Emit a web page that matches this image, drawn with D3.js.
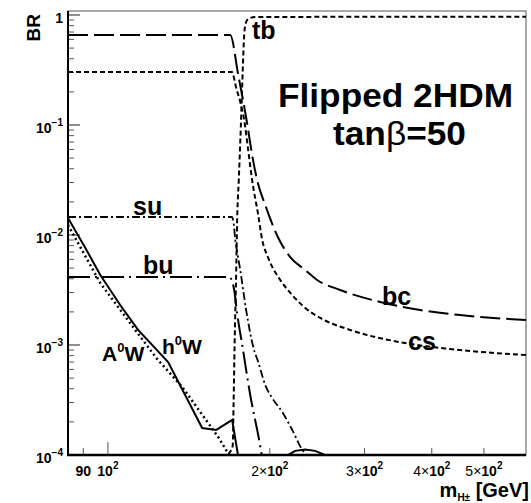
<!DOCTYPE html>
<html>
<head>
<meta charset="utf-8">
<script src="https://cdn.jsdelivr.net/npm/d3@7"></script>
<style>
body { margin: 0; background: #fff; }
text { font-family: "Liberation Sans", Arial, sans-serif; font-weight: bold; fill: #000; }
</style>
</head>
<body>
<div id="chart"></div>
<script>

// branching ratios vs charged Higgs mass (GeV)
var bcMass = [84.3, 168.8, 174.7, 181.3, 185.4, 189.4, 196.1, 207.4, 218.2, 232.7, 244.9, 270.3, 320.7, 380.6, 451.6, 598.7];
var bcBR   = [0.658, 0.658, 0.285, 0.1065, 0.0534, 0.0316, 0.0187, 0.0094, 0.0063, 0.0048, 0.0039, 0.00316, 0.00246, 0.00208, 0.00187, 0.00169];

var csMass = [84.3, 170.0, 173.2, 176.2, 179.2, 182.3, 185.4, 190.3, 193.6, 198.6, 209.1, 220.1, 232.7, 248.1, 282.1, 349.4, 432.6, 598.7];
var csBR   = [0.303, 0.303, 0.217, 0.162, 0.111, 0.0593, 0.0316, 0.0152, 0.009, 0.0062, 0.0039, 0.00285, 0.00217, 0.00176, 0.00137, 0.00106, 0.00092, 0.00081];

var tbMass = [166.6, 167.4, 168.8, 170.6, 171.3, 172.0, 173.2, 173.9, 175.1, 176.7, 178.1, 179.2, 180.4, 182.3, 187.8, 598.7];
var tbBR   = [0.000086, 0.0001, 0.000107, 0.000121, 0.000316, 0.001, 0.0048, 0.0137, 0.0316, 0.1, 0.316, 0.658, 0.846, 0.92, 0.959, 0.965];

var suMass = [84.3, 170.0, 171.2, 172.5, 174.3, 176.2, 180.7, 186.5, 190.3, 196.1, 202.0, 210.9, 220.1, 229.4, 239.8];
var suBR   = [0.01458, 0.01458, 0.0131, 0.009, 0.00658, 0.0048, 0.00208, 0.00094, 0.0007, 0.000433, 0.00033, 0.000246, 0.000169, 0.000113, 0.00009];

var buMass = [84.3, 168.1, 171.7, 173.7, 175.4, 177.7, 180.7, 183.9, 187.8, 190.3, 193.6];
var buBR   = [0.00415, 0.00415, 0.00316, 0.002, 0.00146, 0.001, 0.000593, 0.000351, 0.000208, 0.000152, 0.000094];

var hWMass = [84.3, 90.8, 96.8, 105.4, 113.8, 129.4, 149.7, 159.0, 170.2, 174.5, 176.2, 213.6, 216.3, 222.9, 232.7, 242.8, 253.4, 259.0];
var hWBR   = [0.01428, 0.00762, 0.00433, 0.00231, 0.00137, 0.000701, 0.000176, 0.000169, 0.000208, 0.0001, 0.000073, 0.000073, 0.0001, 0.000109, 0.000112, 0.000109, 0.0001, 0.000081];

var AWMass = [84.3, 96.8, 112.4, 123.0, 137.5, 160.3, 166.6, 168.1];
var AWBR   = [0.01233, 0.00366, 0.00137, 0.000762, 0.000415, 0.000146, 0.000107, 0.000086];

// axis ticks
var yMajor = [1e-4, 1e-3, 1e-2, 1e-1, 1];
var yExp   = ["\u22124", "\u22123", "\u22122", "\u22121", ""];
var xTicks = [90, 100, 200, 300, 400, 500];
var xMant  = ["90", "", "2\u00d7", "3\u00d7", "4\u00d7", "5\u00d7"];

var margin = {top: 11, right: 5, bottom: 48, left: 68},
    width = 531 - margin.left - margin.right,
    height = 503 - margin.top - margin.bottom;

var svg = d3.select("#chart")
  .append("svg")
    .attr("width", 531)
    .attr("height", 503)
  .append("g")
    .attr("transform", "translate(" + margin.left + "," + margin.top + ")");

var x = d3.scaleLog().domain([84.3, 598.7]).range([0, width]);
var y = d3.scaleLog().domain([1e-4, 1.087]).range([height, 0]);

svg.append("clipPath").attr("id", "clip")
  .append("rect").attr("width", width).attr("height", height);

// frame: thin top/right, thick left/bottom
svg.append("rect")
  .attr("width", width).attr("height", height)
  .attr("fill", "none").attr("stroke", "#555").attr("stroke-width", 1);

// y ticks (inside)
var yMinor = [];
for (var d = -4; d < 0; d++)
  for (var k = 2; k <= 9; k++) yMinor.push(k * Math.pow(10, d));

svg.selectAll(".ymin").data(yMinor).enter().append("line")
  .attr("x1", 0).attr("x2", 6)
  .attr("y1", d => y(d)).attr("y2", d => y(d))
  .attr("stroke", "#555").attr("stroke-width", 1);

svg.selectAll(".ymaj").data(yMajor).enter().append("line")
  .attr("x1", 0).attr("x2", 12)
  .attr("y1", d => y(d)).attr("y2", d => y(d))
  .attr("stroke", "#444").attr("stroke-width", 1.2);

// x ticks (inside)
svg.selectAll(".xt").data(xTicks).enter().append("line")
  .attr("x1", d => x(d)).attr("x2", d => x(d))
  .attr("y1", height).attr("y2", d => d == 100 ? height - 13 : height - 7)
  .attr("stroke", "#555").attr("stroke-width", 1);

svg.append("line").attr("x1", 0).attr("x2", 0).attr("y1", 0).attr("y2", height + 1)
  .attr("stroke", "#000").attr("stroke-width", 2);
svg.append("line").attr("x1", -1).attr("x2", width).attr("y1", height).attr("y2", height)
  .attr("stroke", "#000").attr("stroke-width", 2.5);

// y tick labels
yMajor.forEach(function(v, i) {
  var t = svg.append("text")
    .attr("x", -5).attr("y", y(v) + 8)
    .attr("text-anchor", "end")
    .style("font-size", "14px");
  if (yExp[i] == "") {
    t.text("1");
  } else {
    t.append("tspan").text("10");
    t.append("tspan").attr("dy", -7).style("font-size", "10px").text(yExp[i]);
  }
});

// x tick labels
xTicks.forEach(function(v, i) {
  var t = svg.append("text")
    .attr("x", x(v)).attr("y", height + 21)
    .attr("text-anchor", "middle")
    .style("font-size", "14px");
  if (v == 90) {
    t.text("90");
  } else {
    if (xMant[i] != "") t.append("tspan").style("font-weight", "normal").text(xMant[i]);
    t.append("tspan").text("10");
    t.append("tspan").attr("dy", -7).style("font-size", "10px").text("2");
  }
});

// axis titles
svg.append("text")
  .attr("transform", "translate(-28,3) rotate(-90)")
  .attr("text-anchor", "end")
  .style("font-size", "19px")
  .text("BR");

var xt = svg.append("text")
  .attr("x", width + 3).attr("y", height + 42)
  .attr("text-anchor", "end")
  .style("font-size", "20px");
xt.append("tspan").text("m");
xt.append("tspan").attr("dy", 4).style("font-size", "10px").text("H\u00b1");
xt.append("tspan").attr("dy", -4).text(" [GeV]");

// curves
var series = [
  {m: bcMass, br: bcBR, dash: "20,6", w: 2, curve: d3.curveMonotoneX},
  {m: csMass, br: csBR, dash: "5,3", w: 2, curve: d3.curveMonotoneX},
  {m: tbMass, br: tbBR, dash: "5,3", w: 2, curve: d3.curveMonotoneX},
  {m: suMass, br: suBR, dash: "8,3,2,3", w: 1.8, curve: d3.curveMonotoneX},
  {m: buMass, br: buBR, dash: "22,5,2,5", w: 2, curve: d3.curveMonotoneX},
  {m: AWMass, br: AWBR, dash: "2,3", w: 2.5, curve: d3.curveLinear},
  {m: hWMass, br: hWBR, dash: null, w: 2, curve: d3.curveLinear}
];

var plot = svg.append("g").attr("clip-path", "url(#clip)");

series.forEach(function(s) {
  var pts = s.m.map((m, i) => [m, s.br[i]]);
  plot.append("path")
    .datum(pts)
    .attr("fill", "none")
    .attr("stroke", "#000")
    .attr("stroke-width", s.w)
    .attr("stroke-dasharray", s.dash)
    .attr("d", d3.line().curve(s.curve).x(d => x(d[0])).y(d => y(d[1])));
});

// curve labels
function label(txt, px, py) {
  svg.append("text").attr("x", px - margin.left).attr("y", py - margin.top)
    .style("font-size", "25px").text(txt);
}
label("tb", 252, 39);
label("su", 133, 215);
label("bu", 143, 274);
label("bc", 382, 305);
label("cs", 408, 350);

function labelW(sym, px, py) {
  var t = svg.append("text").attr("x", px - margin.left).attr("y", py - margin.top)
    .style("font-size", "21px");
  t.append("tspan").text(sym);
  t.append("tspan").attr("dy", -9).style("font-size", "13px").text("0");
  t.append("tspan").attr("dy", 9).text("W");
}
labelW("A", 102, 361);
labelW("h", 162, 354);

// model title
svg.append("text")
  .attr("x", 278 - margin.left).attr("y", 107 - margin.top)
  .attr("textLength", 235).attr("lengthAdjust", "spacingAndGlyphs")
  .style("font-size", "33px")
  .text("Flipped 2HDM");

var tt = svg.append("text")
  .attr("x", 333 - margin.left).attr("y", 145 - margin.top)
  .attr("textLength", 133).attr("lengthAdjust", "spacingAndGlyphs")
  .style("font-size", "33px");
tt.append("tspan").text("tan");
tt.append("tspan").style("font-weight", "normal").text("\u03b2");
tt.append("tspan").text("=50");

</script>
</body>
</html>
